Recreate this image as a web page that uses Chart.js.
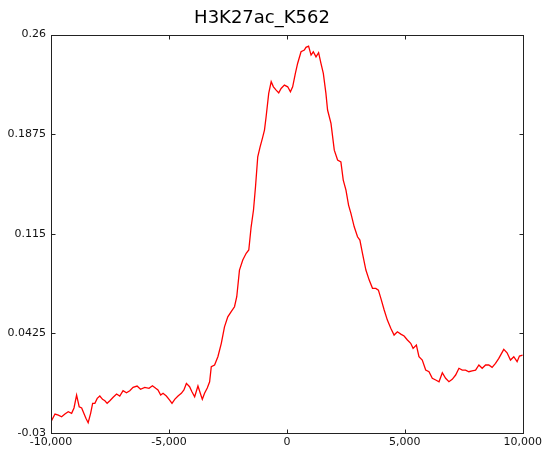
<!DOCTYPE html>
<html>
<head>
<meta charset="utf-8">
<title>H3K27ac_K562</title>
<script src="https://cdn.jsdelivr.net/npm/chart.js@4.4.1/dist/chart.umd.min.js"></script>
<style>
    body { margin: 0; background: #fff; }
    #wrap { width: 545px; height: 452px; position: relative; }
</style>
</head>
<body>
<div id="wrap"><canvas id="profileChart"></canvas></div>
<script>
// distance from centre (bp)
const positions = [
    -10000, -9830, -9690, -9550, -9410, -9270, -9125, -9025, -8915, -8805,
    -8700, -8635, -8520, -8425, -8320, -8235, -8140, -8040, -7930, -7815,
    -7715, -7620, -7505, -7365, -7220, -7085, -6945, -6800, -6660, -6520,
    -6350, -6205, -6025, -5845, -5700, -5560, -5465, -5350, -5250, -5110,
    -4970, -4870, -4755, -4615, -4475, -4365, -4260, -4125, -4025, -3910,
    -3770, -3670, -3585, -3490, -3375, -3275, -3205, -3065, -2925, -2780,
    -2645, -2505, -2360, -2220, -2125, -2010, -1870, -1725, -1615, -1515,
    -1415, -1330, -1235, -1135, -1035, -950, -880, -770, -665, -570,
    -455, -345, -245, -105, 35, 150, 245, 360, 455, 600,
    740, 810, 920, 1025, 1120, 1235, 1345, 1445, 1545, 1655,
    1725, 1870, 2010, 2150, 2290, 2390, 2505, 2615, 2715, 2855,
    2995, 3095, 3205, 3350, 3490, 3630, 3770, 3880, 3985, 4125,
    4260, 4405, 4545, 4685, 4830, 4970, 5110, 5250, 5350, 5490,
    5600, 5740, 5885, 6025, 6165, 6310, 6450, 6590, 6730, 6870,
    7010, 7155, 7295, 7435, 7575, 7715, 7855, 8000, 8140, 8280,
    8425, 8560, 8700, 8845, 8985, 9195, 9335, 9480, 9620, 9760,
    9860, 10000
];

// H3K27ac signal
const signal = [
    -0.0218, -0.0162, -0.0170, -0.0182, -0.0162, -0.0145, -0.0157, -0.0118, -0.0024, -0.0109,
    -0.0118, -0.0145, -0.0193, -0.0225, -0.0157, -0.0084, -0.0084, -0.0048, -0.0031, -0.0055,
    -0.0065, -0.0084, -0.0065, -0.0040, -0.0016, -0.0031, 0.0008, -0.0007, 0.0008, 0.0032,
    0.0042, 0.0018, 0.0032, 0.0025, 0.0044, 0.0025, 0.0013, -0.0024, -0.0011, -0.0031,
    -0.0060, -0.0084, -0.0055, -0.0031, -0.0011, 0.0013, 0.0061, 0.0037, 0.0000, -0.0036,
    0.0042, -0.0011, -0.0055, -0.0011, 0.0028, 0.0073, 0.0182, 0.0195, 0.0255, 0.0353,
    0.0473, 0.0546, 0.0583, 0.0619, 0.0692, 0.0886, 0.0959, 0.1008, 0.1032, 0.1201,
    0.1323, 0.1492, 0.1711, 0.1783, 0.1847, 0.1905, 0.2002, 0.2172, 0.2257, 0.2220,
    0.2196, 0.2176, 0.2208, 0.2232, 0.2220, 0.2184, 0.2220, 0.2318, 0.2390, 0.2475,
    0.2487, 0.2507, 0.2516, 0.2451, 0.2475, 0.2438, 0.2468, 0.2390, 0.2318, 0.2172,
    0.2051, 0.1954, 0.1759, 0.1687, 0.1674, 0.1541, 0.1468, 0.1359, 0.1299, 0.1201,
    0.1128, 0.1104, 0.1008, 0.0886, 0.0813, 0.0753, 0.0753, 0.0740, 0.0680, 0.0595,
    0.0522, 0.0462, 0.0413, 0.0437, 0.0420, 0.0406, 0.0377, 0.0353, 0.0316, 0.0340,
    0.0255, 0.0231, 0.0158, 0.0146, 0.0098, 0.0086, 0.0073, 0.0139, 0.0098, 0.0073,
    0.0091, 0.0122, 0.0171, 0.0158, 0.0158, 0.0146, 0.0153, 0.0158, 0.0195, 0.0171,
    0.0195, 0.0195, 0.0178, 0.0207, 0.0243, 0.0309, 0.0284, 0.0231, 0.0255, 0.0219,
    0.0260, 0.0267
];

const xTicks = [-10000, -5000, 0, 5000, 10000];
const xTickLabels = ['-10,000', '-5,000', '0', '5,000', '10,000'];
const yTicks = [-0.03, 0.0425, 0.115, 0.1875, 0.26];
const yTickLabels = ['-0.03', '0.0425', '0.115', '0.1875', '0.26'];

const tickFont = { family: 'DejaVu Sans', size: 11 };

// box round the plot with short ticks pointing inwards on all four sides
const framePlugin = {
    id: 'frame',
    afterDraw(chart) {
        const { ctx, chartArea, scales } = chart;
        const l = Math.round(chartArea.left) + 0.5;
        const r = Math.round(chartArea.right) + 0.5;
        const t = Math.round(chartArea.top) + 0.5;
        const b = Math.round(chartArea.bottom) + 0.5;
        const len = 4;
        ctx.save();
        ctx.strokeStyle = '#222';
        ctx.lineWidth = 1;
        ctx.strokeRect(l, t, r - l, b - t);
        ctx.beginPath();
        xTicks.forEach(v => {
            const px = Math.round(scales.x.getPixelForValue(v)) + 0.5;
            ctx.moveTo(px, b); ctx.lineTo(px, b - len);
            ctx.moveTo(px, t); ctx.lineTo(px, t + len);
        });
        yTicks.forEach(v => {
            const py = Math.round(scales.y.getPixelForValue(v)) + 0.5;
            ctx.moveTo(l, py); ctx.lineTo(l + len, py);
            ctx.moveTo(r, py); ctx.lineTo(r - len, py);
        });
        ctx.stroke();
        ctx.restore();
    }
};

new Chart(document.getElementById('profileChart').getContext('2d'), {
    type: 'line',
    data: {
        datasets: [{
            data: positions.map((p, i) => ({ x: p, y: signal[i] })),
            borderColor: '#ff0000',
            borderWidth: 1.3,
            pointRadius: 0,
            tension: 0,
            fill: false
        }]
    },
    options: {
        responsive: true,
        maintainAspectRatio: false,
        animation: false,
        layout: { padding: { left: 0, right: 21, top: 0, bottom: 0 } },
        plugins: {
            legend: { display: false },
            tooltip: { enabled: false },
            title: {
                display: true,
                text: 'H3K27ac_K562',
                color: '#000',
                font: { family: 'DejaVu Sans', size: 18, weight: 'normal' },
                padding: { top: 8, bottom: 5 }
            }
        },
        scales: {
            x: {
                type: 'linear',
                min: -10000,
                max: 10000,
                afterBuildTicks: s => { s.ticks = xTicks.map(v => ({ value: v })); },
                afterFit: s => { s.height = 19; },
                grid: { display: false, drawTicks: false },
                border: { display: false },
                ticks: {
                    color: '#111',
                    font: tickFont,
                    padding: 3,
                    maxRotation: 0,
                    autoSkip: false,
                    callback: v => xTickLabels[xTicks.indexOf(v)]
                }
            },
            y: {
                min: -0.03,
                max: 0.26,
                afterBuildTicks: s => { s.ticks = yTicks.map(v => ({ value: v })); },
                afterFit: s => { s.width = 51; },
                grid: { display: false, drawTicks: false },
                border: { display: false },
                ticks: {
                    color: '#111',
                    font: tickFont,
                    padding: 5,
                    autoSkip: false,
                    callback: v => {
                        const i = yTicks.findIndex(t => Math.abs(t - v) < 1e-9);
                        return i >= 0 ? yTickLabels[i] : '';
                    }
                }
            }
        }
    },
    plugins: [framePlugin]
});
</script>
</body>
</html>
